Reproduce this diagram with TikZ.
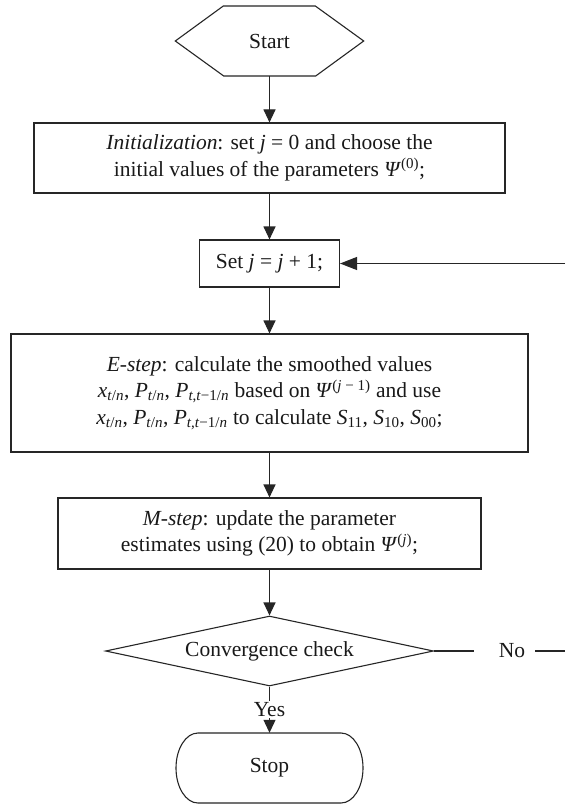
\documentclass[tikz,border=0pt]{standalone}
\usepackage{fontspec}
\setmainfont{Liberation Serif}
\usetikzlibrary{arrows.meta,shapes.geometric,shapes.misc,calc}
\newcommand\sbs[1]{\textsubscript{#1}}
\newcommand\sps[1]{\textsuperscript{#1}}
\begin{document}
\begin{tikzpicture}[x=1pt,y=-1pt,
  every node/.style={font=\fontsize{21.5}{26.5}\selectfont, text=black!90},
  box/.style={draw=black!85, line width=1.1pt, align=center, inner sep=0pt},
  conn/.style={draw=black!85, line width=1.1pt},
  arr/.style={conn, -{Triangle[length=13pt,width=12pt]}},
  bigarr/.style={conn, -{Triangle[length=17pt,width=13pt]}}
]
\useasboundingbox (0,0) rectangle (565,805);
\fill[white] (0,0) rectangle (565,805);

% Start hexagon
\node[minimum width=188pt, minimum height=70pt, inner sep=0pt] (start) at (269.5,41) {Start};
\draw[conn] (start.west) -- ++(48,-35) -- ++(92,0) -- (start.east) -- ++(-48,35) -- ++(-92,0) -- cycle;

\node[box, minimum width=471pt, minimum height=70pt] (init) at (269.5,158)
  {\textit{Initialization}: set \textit{j} = 0 and choose the\\initial values of the parameters \textit{Ψ}\sps{(0)};};

\node[box, minimum width=140pt, minimum height=47pt] (set) at (269.5,263.5)
  {Set \textit{j} = \textit{j} + 1;};

\node[box, minimum width=517pt, minimum height=118pt] (estep) at (269.5,393)
  {\textit{E-step}: calculate the smoothed values\\
   \textit{x}\sbs{\textit{t}/\textit{n}}, \textit{P}\sbs{\textit{t}/\textit{n}}, \textit{P}\sbs{\textit{t},\textit{t}−1/\textit{n}} based on \textit{Ψ}\sps{(\textit{j} − 1)} and use\\
   \textit{x}\sbs{\textit{t}/\textit{n}}, \textit{P}\sbs{\textit{t}/\textit{n}}, \textit{P}\sbs{\textit{t},\textit{t}−1/\textit{n}} to calculate \textit{S}\sbs{11}, \textit{S}\sbs{10}, \textit{S}\sbs{00};};

\node[box, minimum width=423pt, minimum height=71pt] (mstep) at (269.5,533.5)
  {\textit{M-step}: update the parameter\\estimates using (20) to obtain \textit{Ψ}\sps{(\textit{j})};};

\node[box, shape=diamond, aspect=4.686, minimum width=328pt, minimum height=70pt] (conv) at (269.5,651)
  {Convergence check};

% Stop terminator with elliptical ends
\node[minimum width=187pt, minimum height=70pt, inner sep=0pt] (stop) at (269.5,768) {Stop};
\draw[conn] (198,733) -- (341,733)
  .. controls (353.2,733) and (363,748.7) .. (363,768)
  .. controls (363,787.3) and (353.2,803) .. (341,803)
  -- (198,803)
  .. controls (185.8,803) and (176,787.3) .. (176,768)
  .. controls (176,748.7) and (185.8,733) .. (198,733) -- cycle;

\node[inner sep=0pt] (no) at (512,651) {No};
\coordinate (noend) at (565,651);
\coordinate (back) at (565,263.5);

% connectors
\draw[arr] (start.south) -- (init.north);
\draw[arr] (init.south) -- (set.north);
\draw[arr] (set.south) -- (estep.north);
\draw[arr] (estep.south) -- (mstep.north);
\draw[arr] (mstep.south) -- (conv.north);
\draw[arr] (conv.south) -- node[fill=white, inner sep=1.5pt] {Yes} (stop.north);
\draw[conn] (conv.east) -- ([xshift=-25pt]no.west);
\draw[conn] ([xshift=10pt]no.east) -- (noend);
\draw[bigarr] (back) -- (set.east);
\end{tikzpicture}
\end{document}
